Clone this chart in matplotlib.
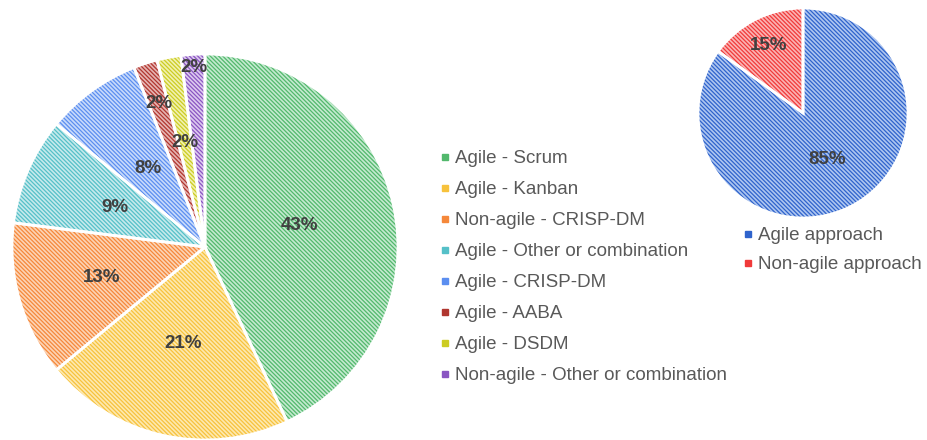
import matplotlib.pyplot as plt
import numpy as np
from matplotlib.lines import Line2D

plt.rcParams["font.family"] = ["Liberation Sans", "DejaVu Sans"]
plt.rcParams["hatch.linewidth"] = 0.9

# left pie: methodology used
methods = [
    "Agile - Scrum",
    "Agile - Kanban",
    "Non-agile - CRISP-DM",
    "Agile - Other or combination",
    "Agile - CRISP-DM",
    "Agile - AABA",
    "Agile - DSDM",
    "Non-agile - Other or combination",
]
method_share = [43, 21, 13, 9, 8, 2, 2, 2]
method_dark = ["#52b86c", "#f7c23c", "#f5883a", "#55c0c8", "#5b8ef0", "#b0362f", "#cccc22", "#8a55c2"]
method_light = ["#c4ead0", "#fde9b0", "#fcd4b6", "#c6eaec", "#c8dafb", "#e6b4b2", "#f1f1b0", "#ddcaef"]
method_label_r = [0.5, 0.51, 0.56, 0.51, 0.5, 0.78, 0.55, 0.93]

# right pie: agile vs non-agile
approach = ["Agile approach", "Non-agile approach"]
approach_share = [85, 15]
approach_dark = ["#2f63cc", "#f03a3a"]
approach_light = ["#aec6f0", "#fbb4b4"]
approach_label_r = [0.5, 0.72]

W, H = 927, 440
fig = plt.figure(figsize=(W / 100, H / 100), dpi=100)


def hatched_pie(ax, values, dark, light, label_r):
    wedges, _ = ax.pie(values, startangle=90, counterclock=False,
                       colors=light, wedgeprops=dict(linewidth=0))
    for w, c in zip(wedges, dark):
        w.set_hatch("\\" * 8)
        w.set_edgecolor(c)
        w.set_linewidth(0)
    # white separators on top
    ax.pie(values, startangle=90, counterclock=False,
           wedgeprops=dict(facecolor="none", edgecolor="white", linewidth=2))
    total = sum(values)
    for w, v, r in zip(wedges, values, label_r):
        ang = np.deg2rad((w.theta1 + w.theta2) / 2)
        ax.text(r * np.cos(ang), r * np.sin(ang), f"{round(100 * v / total)}%",
                ha="center", va="center", fontsize=13.5, fontweight="bold",
                color="#404040")
    ax.set_xlim(-1, 1)
    ax.set_ylim(-1, 1)
    ax.set_axis_off()


ax1 = fig.add_axes([12 / W, 0 / H, 386 / W, 386 / H])
hatched_pie(ax1, method_share, method_dark, method_light, method_label_r)

ax2 = fig.add_axes([698 / W, 222 / H, 210 / W, 210 / H])
hatched_pie(ax2, approach_share, approach_dark, approach_light, approach_label_r)


def square_handles(colors):
    return [Line2D([], [], linestyle="none", marker="s", markersize=5,
                   markerfacecolor=c, markeredgecolor=c) for c in colors]


leg_kw = dict(frameon=False, fontsize=13.5, labelcolor="#595959", handlelength=0.5,
              handletextpad=0.3, borderpad=0, borderaxespad=0)
fig.legend(square_handles(method_dark), methods, loc="upper left",
           bbox_to_anchor=(440 / W, 1 - 150 / H), labelspacing=0.74, **leg_kw)
fig.legend(square_handles(approach_dark), approach, loc="upper left",
           bbox_to_anchor=(743 / W, 1 - 227 / H), labelspacing=0.65, **leg_kw)

fig.savefig("out.png", dpi=100, facecolor="white")
